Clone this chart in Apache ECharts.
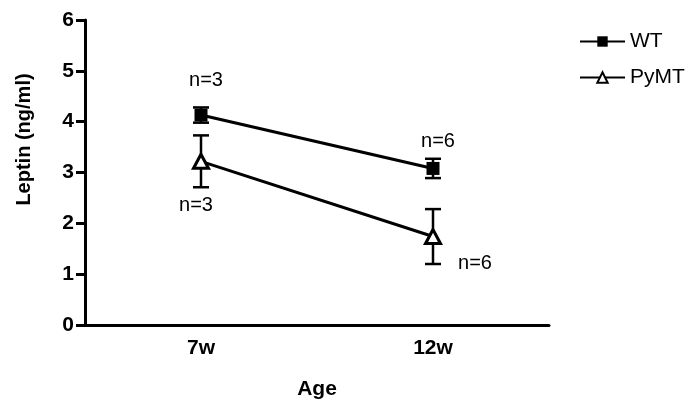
<!DOCTYPE html>
<html><head><meta charset="utf-8">
<script src="https://cdn.jsdelivr.net/npm/echarts@6/dist/echarts.min.js"></script>
<style>html,body{margin:0;padding:0;background:#fff}#c{width:700px;height:408px}</style>
</head><body><div id="c"></div>
<script>
var categories = ['7w', '12w'];
var wtMean = [4.13, 3.08];
var wtErr = [0.15, 0.19];
var pymtMean = [3.22, 1.74];
var pymtErr = [0.51, 0.54];
var wtN = ['n=3', 'n=6'];
var pymtN = ['n=3', 'n=6'];
var yTicks = [0, 1, 2, 3, 4, 5, 6];

var FONT = 'Liberation Sans, Arial, Helvetica, sans-serif';
var wtOffsets = [[5, -35], [5, -27]];
var pymtOffsets = [[-5, 44], [42, 27]];

function labeled(vals, names, offs) {
  return vals.map(function (v, i) {
    return { value: v, label: { show: true, position: 'inside', offset: offs[i], formatter: names[i],
      color: '#000', fontFamily: FONT, fontSize: 20 } };
  });
}
function errData(mean, err) {
  return mean.map(function (m, i) { return [i, m - err[i], m + err[i]]; });
}
function errRender(params, api) {
  var lo = api.coord([api.value(0), api.value(1)]);
  var hi = api.coord([api.value(0), api.value(2)]);
  var hw = 8;
  var st = { stroke: '#000', lineWidth: 2.5 };
  return { type: 'group', children: [
    { type: 'line', shape: { x1: lo[0], y1: lo[1], x2: hi[0], y2: hi[1] }, style: st },
    { type: 'line', shape: { x1: lo[0] - hw, y1: lo[1], x2: lo[0] + hw, y2: lo[1] }, style: st },
    { type: 'line', shape: { x1: hi[0] - hw, y1: hi[1], x2: hi[0] + hw, y2: hi[1] }, style: st }
  ]};
}

var chart = echarts.init(document.getElementById('c'));
chart.setOption({
  animation: false,
  backgroundColor: '#fff',
  grid: { left: 85, right: 151, top: 20, bottom: 83 },
  legend: {
    orient: 'vertical', left: 579, top: 31, padding: 0, itemGap: 15, itemWidth: 45, itemHeight: 13,
    textStyle: { fontFamily: FONT, fontSize: 21, color: '#000' },
    data: ['WT', 'PyMT']
  },
  xAxis: {
    type: 'category', data: categories, boundaryGap: true,
    name: 'Age', nameLocation: 'middle', nameGap: 54,
    nameTextStyle: { fontFamily: FONT, fontSize: 21, fontWeight: 'bold', color: '#000' },
    axisLine: { lineStyle: { color: '#000', width: 3 } },
    axisTick: { alignWithLabel: true, length: 9, lineStyle: { color: '#000', width: 3 } },
    axisLabel: { fontFamily: FONT, fontSize: 21, fontWeight: 'bold', color: '#000', margin: 13 }
  },
  yAxis: {
    type: 'value', min: 0, max: 6, interval: 1,
    name: 'Leptin (ng/ml)', nameLocation: 'middle', nameGap: 51,
    nameTextStyle: { fontFamily: FONT, fontSize: 20, fontWeight: 'bold', color: '#000', padding: [0, 0, 0, 66] },
    axisLine: { show: true, lineStyle: { color: '#000', width: 3 } },
    axisTick: { show: true, length: 9, lineStyle: { color: '#000', width: 3 } },
    axisLabel: { fontFamily: FONT, fontSize: 21, fontWeight: 'bold', color: '#000', margin: 11,
      formatter: function (v) { return yTicks.indexOf(v) >= 0 ? String(v) : ''; } },
    splitLine: { show: false }
  },
  series: [
    { type: 'custom', name: 'wtErr', renderItem: errRender, data: errData(wtMean, wtErr), z: 1, silent: true },
    { type: 'custom', name: 'pymtErr', renderItem: errRender, data: errData(pymtMean, pymtErr), z: 1, silent: true },
    { type: 'line', name: 'WT', data: labeled(wtMean, wtN, wtOffsets), z: 3,
      symbol: 'rect', symbolSize: 13,
      lineStyle: { color: '#000', width: 3 },
      itemStyle: { color: '#000', borderColor: '#000', borderWidth: 0 } },
    { type: 'line', name: 'PyMT', data: labeled(pymtMean, pymtN, pymtOffsets), z: 3,
      symbol: 'triangle', symbolSize: [15, 14],
      lineStyle: { color: '#000', width: 3 },
      itemStyle: { color: '#fff', borderColor: '#000', borderWidth: 3 } }
  ]
});
</script></body></html>
